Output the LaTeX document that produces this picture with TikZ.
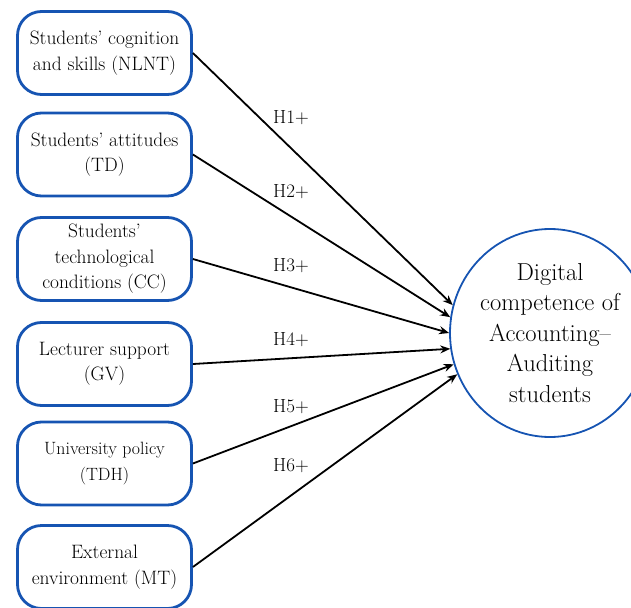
\documentclass[tikz,border=0pt]{standalone}
\usepackage{fontspec}
\usetikzlibrary{shapes.geometric}
\usetikzlibrary{arrows.meta}
\definecolor{boxblue}{RGB}{22,84,178}

\begin{document}
\begin{tikzpicture} [x=1pt, y=-1pt,
        factor/.style={
            align=center,
            rectangle,
            rounded corners=24pt,
            draw=boxblue,
            line width=2.8pt,
            minimum width=174pt,
            minimum height=83pt},
        outcome/.style={
            ellipse,
            align=center,
            draw=boxblue,
            line width=1.8pt,
            inner sep=0pt,
            minimum width=200pt,
            minimum height=208pt,
            font=\fontsize{24.5}{30.5}\selectfont},
        hyp/.style={font=\fontsize{19}{23}\selectfont},
        link/.style={-{Stealth[length=10pt,width=8pt]}, line width=1.8pt}]

    \useasboundingbox (0,0) rectangle (631,607);

    % outcome on the right
    \node[outcome] (dc) at (550,333) {Digital\\competence of\\Accounting--\\Auditing\\students};

    % factors, hypotheses and arrows
    \foreach \txt/\yy/\ang/\hy/\sz [count=\i] in {
        {Students’ cognition\\and skills (NLNT)}/53/164/118/19.4,
        {Students’ attitudes\\(TD)}/154.5/171.5/192/19.4,
        {Students’\\technological\\conditions (CC)}/259/180/266/19.4,
        {Lecturer support\\(GV)}/364/189.5/340/19.4,
        {University policy\\(TDH)}/463.5/198/407/17.8,
        {External\\environment (MT)}/567/204/466/19.4} {
        \node[factor, font=\fontsize{\sz}{25.5}\selectfont] (f\i) at (104.5,\yy) {\txt};
        \node[hyp] (h\i) at (291,\hy) {H\i+};
        \draw[link] (f\i.east) -- (dc.\ang);
    }

\end{tikzpicture}
\end{document}
